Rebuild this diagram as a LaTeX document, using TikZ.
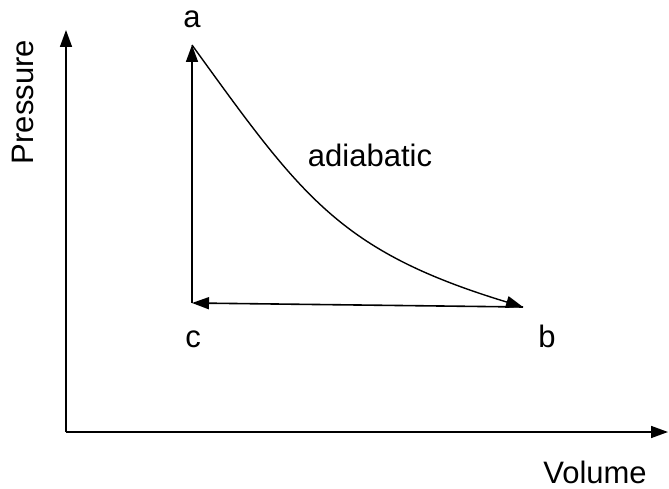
\documentclass[tikz,border=0pt]{standalone}
\usepackage{fontspec}
\setmainfont{Liberation Sans}
\usetikzlibrary{arrows.meta}

\begin{document}
\begin{tikzpicture}[x=1pt, y=-1pt, every node/.style={font=\fontsize{31}{36}\selectfont, inner sep=0pt},
  tip/.style={-{Triangle[length=17pt,width=12pt]}, line width=1.6pt},
  lbl/.style={anchor=base}]
  \useasboundingbox (0,0) rectangle (669,489);
  % axes
  \coordinate (O) at (66,432);
  \coordinate (ytop) at (66,30);
  \coordinate (xend) at (668,432);
  \draw[tip] (O) -- (ytop);
  \draw[tip] (O) -- (xend);
  \node[lbl, rotate=90] (pres) at (33,102) {Pressure};
  \node[lbl] (vol) at (595,483) {Volume};
  % cycle
  \coordinate (ptA) at (192,45);
  \coordinate (ptB) at (523,307);
  \coordinate (ptC) at (192,303);
  \draw[tip] (ptC) -- (ptA);
  \draw[tip] (ptB) -- (ptC);
  \draw[tip, line width=1.4pt] (ptA) .. controls (302,197) and (339,251) .. (ptB);
  \node[lbl] (lblA) at (192,28) {a};
  \node[lbl] (lblB) at (547,347) {b};
  \node[lbl] (lblC) at (193,347) {c};
  \node[lbl] (adia) at (370,167) {adiabatic};
\end{tikzpicture}
\end{document}
